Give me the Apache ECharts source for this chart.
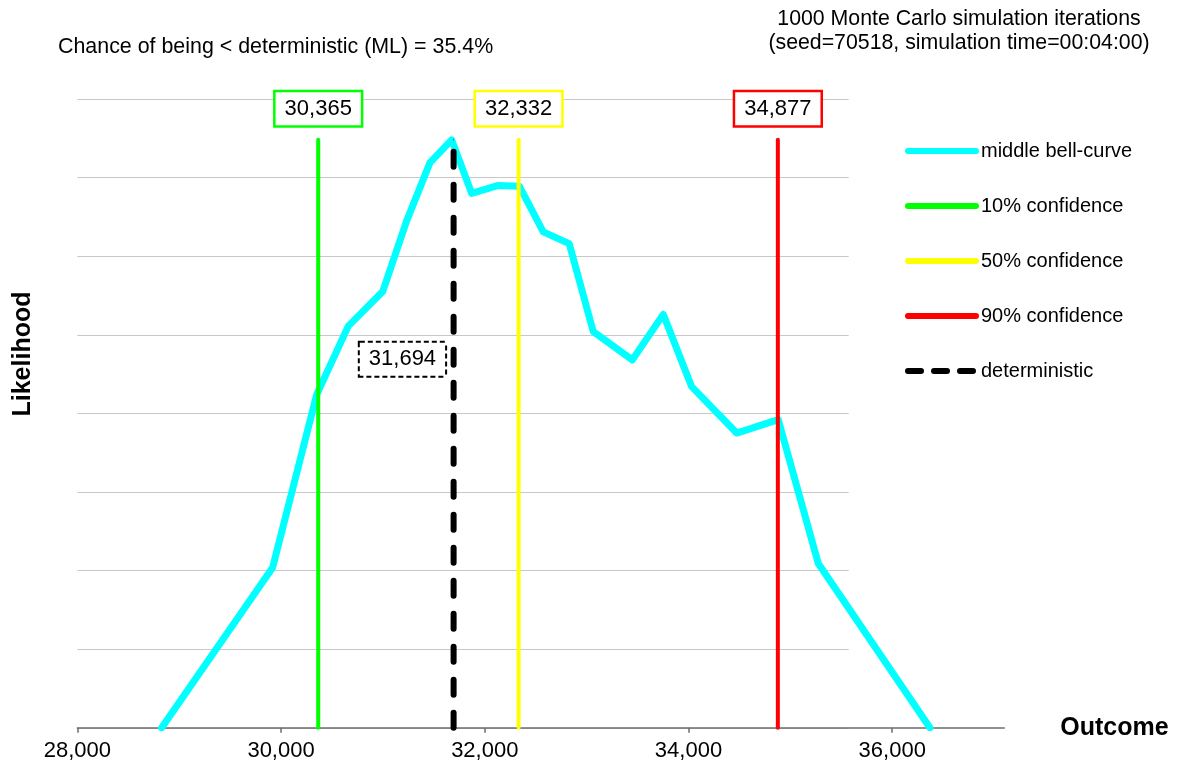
<!DOCTYPE html>
<html>
<head>
<meta charset="utf-8">
<title>Monte Carlo outcome distribution</title>
<script src="https://cdn.jsdelivr.net/npm/echarts@6/dist/echarts.min.js"></script>
<style>
  html, body { margin: 0; padding: 0; background: #ffffff; }
  #chart { width: 1190px; height: 772px; }
</style>
</head>
<body>
<div id="chart"></div>
<script>
// Simulated outcome histogram (bin outcome, relative likelihood)
const outcomes = [28828, 29918, 30350, 30660, 30998, 31233, 31462, 31675, 31871, 32133, 32339,
                  32574, 32829, 33065, 33448, 33752, 34031, 34473, 34881, 35274, 36370];
const likelihood = [0, 2.04, 4.24, 5.11, 5.55, 6.45, 7.19, 7.48, 6.80, 6.90, 6.89,
                    6.31, 6.16, 5.04, 4.68, 5.26, 4.34, 3.75, 3.92, 2.09, 0];

// Confidence levels and the deterministic (most likely) estimate
const confidenceNames = ['10% confidence', '50% confidence', '90% confidence'];
const confidenceValues = [30365, 32332, 34877];
const deterministicValue = 31694;

// Summary figures
const chanceBelowDeterministic = 35.4;
const iterations = 1000;
const seed = 70518;
const simulationTime = '00:04:00';

// Axis ticks
const xTicks = [28000, 30000, 32000, 34000, 36000];

const FONT = "'Liberation Sans', Arial, sans-serif";
const fmt = v => Math.round(v).toLocaleString('en-US');
const peak = Math.max(...likelihood);
const confidenceColors = ['#00ff00', '#ffff00', '#ff0000'];

const xMin = 28000, xMax = 37100, yMax = 8;
const plotTop = 99, plotBottom = 44.2, plotLeft = 77.3;

function valueBox(color, dashed) {
  return {
    show: true,
    formatter: p => fmt(p.value[0]),
    color: '#000',
    fontFamily: FONT,
    fontSize: 22,
    lineHeight: 23,
    backgroundColor: '#ffffff',
    borderColor: color,
    borderWidth: dashed ? 2 : 2.5,
    borderType: dashed ? [5, 3] : 'solid',
    padding: [5, 9, 5, 9]
  };
}

const series = [{
  name: 'middle bell-curve',
  type: 'line',
  xAxisIndex: 1, yAxisIndex: 1,
  data: outcomes.map((x, i) => [x, likelihood[i]]),
  showSymbol: false, symbol: 'none',
  lineStyle: { color: '#00ffff', width: 7, cap: 'round', join: 'round' },
  itemStyle: { color: '#00ffff' },
  clip: true,
  z: 2
}];

confidenceNames.forEach((name, i) => {
  const v = confidenceValues[i];
  series.push({
    name,
    type: 'line',
    xAxisIndex: 1, yAxisIndex: 1,
    data: [[v, 0], { value: [v, peak], label: Object.assign(valueBox(confidenceColors[i], false), { position: 'top', distance: 14 }) }],
    showSymbol: true, symbol: 'circle', symbolSize: 1,
    lineStyle: { color: confidenceColors[i], width: 4, cap: 'round' },
    itemStyle: { color: confidenceColors[i] },
    emphasis: { disabled: true },
    clip: false,
    z: 3
  });
});

// label sits part-way up the deterministic line
const detLabelLevel = peak * 0.627;
series.push({
  name: 'deterministic',
  type: 'line',
  xAxisIndex: 1, yAxisIndex: 1,
  data: [[deterministicValue, 0],
         { value: [deterministicValue, detLabelLevel], label: Object.assign(valueBox('#000000', true), { position: 'left', distance: 8 }) },
         [deterministicValue, peak]],
  showSymbol: true, symbol: 'circle', symbolSize: 1,
  lineStyle: { color: '#000000', width: 6, type: [15, 18], cap: 'round' },
  itemStyle: { color: '#000000' },
  emphasis: { disabled: true },
  clip: false,
  z: 4
});

const chart = echarts.init(document.getElementById('chart'), null, { renderer: 'canvas' });
chart.setOption({
  animation: false,
  backgroundColor: '#ffffff',
  textStyle: { fontFamily: FONT },
  title: [{
    text: `Chance of being < deterministic (ML) = ${chanceBelowDeterministic}%`,
    left: 58, top: 35, padding: 0,
    textStyle: { fontFamily: FONT, fontSize: 21.4, fontWeight: 'normal', color: '#000', lineHeight: 24 }
  }, {
    text: `${iterations} Monte Carlo simulation iterations\n(seed=${seed}, simulation time=${simulationTime})`,
    left: 959, top: 7, padding: 0, textAlign: 'center',
    textStyle: { fontFamily: FONT, fontSize: 21.3, fontWeight: 'normal', color: '#000', lineHeight: 24 }
  }],
  legend: {
    orient: 'vertical',
    left: 905, top: 141, padding: 0,
    itemWidth: 68, itemHeight: 12, itemGap: 35,
    selectedMode: false,
    itemStyle: { opacity: 0 },
    textStyle: { fontFamily: FONT, fontSize: 20, color: '#000', lineHeight: 20 },
    data: [
      { name: 'middle bell-curve', lineStyle: { width: 6 } },
      { name: '10% confidence', lineStyle: { width: 6 } },
      { name: '50% confidence', lineStyle: { width: 6 } },
      { name: '90% confidence', lineStyle: { width: 6 } },
      { name: 'deterministic', lineStyle: { width: 6, type: [13, 13] } }
    ]
  },
  grid: [
    // horizontal gridlines
    { left: plotLeft, right: 341.3, top: plotTop, bottom: plotBottom },
    // data plot
    { left: plotLeft, right: 185.7, top: plotTop, bottom: plotBottom }
  ],
  xAxis: [{
    gridIndex: 0, type: 'value', min: xMin, max: xMax, show: false
  }, {
    gridIndex: 1, type: 'value', min: xMin, max: xMax,
    name: 'Outcome', nameLocation: 'end', nameGap: 56,
    nameTextStyle: { fontFamily: FONT, fontSize: 25, fontWeight: 'bold', color: '#000', verticalAlign: 'middle' },
    axisLine: { show: true, onZero: false, lineStyle: { color: '#6e6e6e', width: 1.5 } },
    axisTick: { show: true, length: 5, customValues: xTicks, lineStyle: { color: '#6e6e6e', width: 1.5 } },
    axisLabel: { customValues: xTicks, formatter: v => fmt(v), margin: 12, fontFamily: FONT, fontSize: 22, color: '#000' },
    splitLine: { show: false }
  }],
  yAxis: [{
    gridIndex: 0, type: 'value', min: 0, max: yMax, interval: 1,
    axisLine: { show: false }, axisTick: { show: false }, axisLabel: { show: false },
    splitLine: { show: true, lineStyle: { color: '#c8c8c8', width: 1 } }
  }, {
    gridIndex: 1, type: 'value', min: 0, max: yMax, interval: 1,
    axisLine: { show: false }, axisTick: { show: false }, axisLabel: { show: false },
    splitLine: { show: false }
  }],
  graphic: [{
    type: 'text',
    x: 23, y: 354, rotation: Math.PI / 2,
    style: { text: 'Likelihood', fontFamily: FONT, fontSize: 25, fontWeight: 'bold', fill: '#000', align: 'center', verticalAlign: 'middle' }
  }],
  series
});
</script>
</body>
</html>
